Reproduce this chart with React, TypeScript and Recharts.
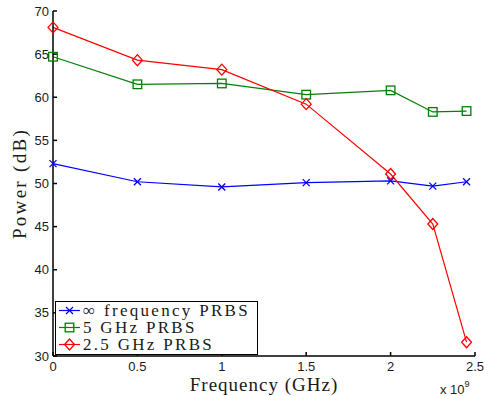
import React from 'react';
import { LineChart, Line, XAxis, YAxis, Legend } from 'recharts';

// frequency axis, in GHz (axis carries a x10^9 multiplier)
const frequencies = [0, 0.5, 1, 1.5, 2, 2.25, 2.45];

const infinitePrbs = [52.3, 50.2, 49.6, 50.1, 50.3, 49.7, 50.2];
const prbs5GHz = [64.7, 61.5, 61.6, 60.3, 60.8, 58.3, 58.4];
const prbs25GHz = [68.1, 64.3, 63.2, 59.2, 51.1, 45.3, 31.6];

const xTicks = [0, 0.5, 1, 1.5, 2, 2.5];
const yTicks = [30, 35, 40, 45, 50, 55, 60, 65, 70];

const seriesNames = ['\u221e frequency PRBS', '5 GHz PRBS', '2.5 GHz PRBS'];
const seriesColors = ['#0000ff', '#008000', '#ff0000'];
const seriesKeys = ['inf', 'five', 'twoFive'];
const seriesMarkers = ['cross', 'square', 'diamond'];

const data = frequencies.map((f, i) => ({
  freq: f,
  inf: infinitePrbs[i],
  five: prbs5GHz[i],
  twoFive: prbs25GHz[i],
}));

const SERIF = '"Liberation Serif", "DejaVu Serif", serif';
const SANS = '"Liberation Sans", Arial, sans-serif';

function Marker({ kind, cx, cy, color }: { kind: string; cx: number; cy: number; color: string }) {
  if (kind === 'cross') {
    const r = 3.5;
    return (
      <g stroke={color} strokeWidth={1.3}>
        <line x1={cx - r} y1={cy - r} x2={cx + r} y2={cy + r} />
        <line x1={cx - r} y1={cy + r} x2={cx + r} y2={cy - r} />
      </g>
    );
  }
  if (kind === 'square') {
    const r = 4.3;
    return <rect x={cx - r} y={cy - r} width={2 * r} height={2 * r} fill="none" stroke={color} strokeWidth={1.3} />;
  }
  const r = 5.5;
  return (
    <polygon
      points={`${cx},${cy - r} ${cx + r * 0.9},${cy} ${cx},${cy + r} ${cx - r * 0.9},${cy}`}
      fill="none"
      stroke={color}
      strokeWidth={1.3}
    />
  );
}

const makeDot = (kind: string, color: string) => (props: any) => {
  const { cx, cy, index } = props;
  if (cx == null || cy == null) return <g key={index} />;
  return <Marker key={index} kind={kind} cx={cx} cy={cy} color={color} />;
};

const LegendBox = () => (
  <div
    style={{
      border: '1.5px solid #000',
      background: '#fff',
      width: 201,
      padding: '0 0 1px 0',
      fontFamily: SERIF,
      fontSize: 17,
      letterSpacing: 2.3,
      lineHeight: '17px',
      color: '#1a1a1a',
    }}
  >
    {seriesNames.map((name, i) => (
      <div key={name} style={{ display: 'flex', alignItems: 'center', height: 17 }}>
        <svg width={27} height={17} style={{ flex: 'none' }}>
          <line x1={3} y1={8.5} x2={24} y2={8.5} stroke={seriesColors[i]} strokeWidth={1.2} />
          <Marker kind={seriesMarkers[i]} cx={13.5} cy={8.5} color={seriesColors[i]} />
        </svg>
        <span style={{ whiteSpace: 'nowrap', display: 'inline-block', height: 17, lineHeight: '17px' }}>{name}</span>
      </div>
    ))}
  </div>
);

export default function App() {
  return (
    <div style={{ position: 'absolute', left: 0, top: 0, width: 484, height: 396, background: '#fff' }}>
      <LineChart width={484} height={396} data={data} margin={{ top: 11, right: 9, left: 0, bottom: 0 }}>
        <XAxis
          dataKey="freq"
          type="number"
          domain={[0, 2.5]}
          ticks={xTicks}
          height={40}
          tickSize={-4}
          tickMargin={10}
          stroke="#000"
          strokeWidth={1.5}
          tick={{ fill: '#1a1a1a', fontSize: 13, fontFamily: SANS }}
          label={{
            value: 'Frequency (GHz)',
            position: 'insideBottom',
            offset: 5,
            style: { fontFamily: SERIF, fontSize: 19, letterSpacing: 1, fill: '#1a1a1a' },
          }}
        />
        <XAxis
          xAxisId="top"
          dataKey="freq"
          type="number"
          orientation="top"
          domain={[0, 2.5]}
          ticks={xTicks}
          height={0}
          tickSize={-4}
          tick={false}
          stroke="#000"
          strokeWidth={1.5}
        />
        <YAxis
          type="number"
          domain={[30, 70]}
          ticks={yTicks}
          width={53}
          tickSize={-4}
          tickMargin={8}
          stroke="#000"
          strokeWidth={1.5}
          tick={{ fill: '#1a1a1a', fontSize: 13, fontFamily: SANS }}
          label={{
            value: 'Power (dB)',
            angle: -90,
            position: 'insideLeft',
            offset: 19,
            style: { fontFamily: SERIF, fontSize: 19, letterSpacing: 2.3, fill: '#1a1a1a', textAnchor: 'middle' },
          }}
        />
        <YAxis
          yAxisId="right"
          orientation="right"
          type="number"
          domain={[30, 70]}
          ticks={yTicks}
          width={0}
          tickSize={-4}
          tick={false}
          stroke="#000"
          strokeWidth={1.5}
        />
        {seriesKeys.map((key, i) => (
          <Line
            key={key}
            dataKey={key}
            name={seriesNames[i]}
            stroke={seriesColors[i]}
            strokeWidth={1.2}
            dot={makeDot(seriesMarkers[i], seriesColors[i])}
            activeDot={false}
            isAnimationActive={false}
          />
        ))}
        <Legend
          layout="vertical"
          align="center"
          verticalAlign="middle"
          content={<LegendBox />}
          wrapperStyle={{ position: 'absolute', left: 55, top: 301, width: 'auto', height: 'auto' }}
        />
      </LineChart>
      <div
        style={{
          position: 'absolute',
          left: 440,
          top: 381,
          fontFamily: SANS,
          fontSize: 13,
          color: '#1a1a1a',
          whiteSpace: 'nowrap',
        }}
      >
        x 10<sup style={{ fontSize: 9, position: 'relative', top: -2 }}>9</sup>
      </div>
    </div>
  );
}
